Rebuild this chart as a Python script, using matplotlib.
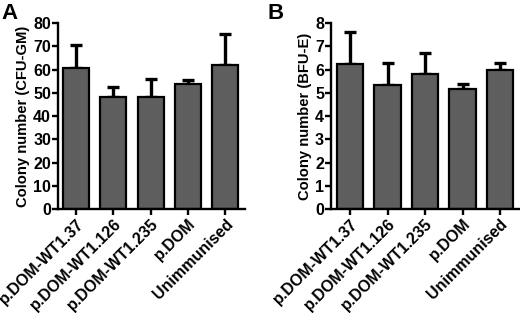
#Colony numbers for CFU-GM and BFU-E, two bar panels
import numpy as np
import matplotlib.pyplot as plt
import matplotlib.transforms as mtrans

plt.rcParams['font.family'] = ['Liberation Sans', 'DejaVu Sans']
plt.rcParams['font.weight'] = 'bold'

#Data
groups = ['p.DOM-WT1.37', 'p.DOM-WT1.126', 'p.DOM-WT1.235', 'p.DOM', 'Unimmunised']
cfu_gm = [60.5, 48.0, 48.0, 53.6, 62.0]
cfu_gm_err = [10.0, 4.3, 8.0, 1.9, 13.3]
bfu_e = [6.24, 5.35, 5.80, 5.15, 5.98]
bfu_e_err = [1.36, 0.94, 0.90, 0.23, 0.29]

fig = plt.figure(figsize=(5.2, 3.13), dpi=100)
axA = fig.add_axes([0.1115, 0.332, 0.36, 0.5945])
axB = fig.add_axes([0.6365, 0.332, 0.3635, 0.5945])

def panel(ax, vals, errs, ylab, ymax, step, xlim):
    x = np.arange(len(groups))
    ax.bar(x, vals, width=0.7, color='#5e5e5e', edgecolor='black', linewidth=1.6, zorder=2)
    ax.errorbar(x, vals, yerr=[np.zeros(len(errs)), errs], fmt='none', ecolor='black',
                elinewidth=2.4, capsize=4.5, capthick=2.4, zorder=1)
    ax.set_xlim(*xlim)
    ax.set_ylim(0, ymax)
    ax.set_yticks(np.arange(0, ymax + step / 2, step))
    ax.set_xticks(x)
    ax.set_xticklabels(groups, rotation=45, ha='right', rotation_mode='anchor', fontsize=9.2, fontweight='bold')
    # nudge labels a little right, like the original
    shift = mtrans.ScaledTranslation(7 / 100, 0, fig.dpi_scale_trans)
    for t in ax.get_xticklabels():
        t.set_transform(t.get_transform() + shift)
    ax.set_ylabel(ylab, fontsize=10.6, fontweight='bold', labelpad=2)
    for s in ['top', 'right']:
        ax.spines[s].set_visible(False)
    for s in ['left', 'bottom']:
        ax.spines[s].set_linewidth(1.7)
    ax.tick_params(axis='both', width=1.7, length=4, labelsize=11.5, pad=1)
    ax.tick_params(axis='x', pad=1)
    for t in ax.get_yticklabels():
        t.set_fontweight('bold')

panel(axA, cfu_gm, cfu_gm_err, 'Colony number (CFU-GM)', 80, 10, (-0.48, 4.53))
panel(axB, bfu_e, bfu_e_err, 'Colony number (BFU-E)', 8, 1, (-0.51, 4.53))

fig.text(0.003, 0.99, 'A', fontsize=16, fontweight='bold', va='top', ha='left')
fig.text(0.515, 0.99, 'B', fontsize=16, fontweight='bold', va='top', ha='left')

plt.savefig('out.png', dpi=100)
